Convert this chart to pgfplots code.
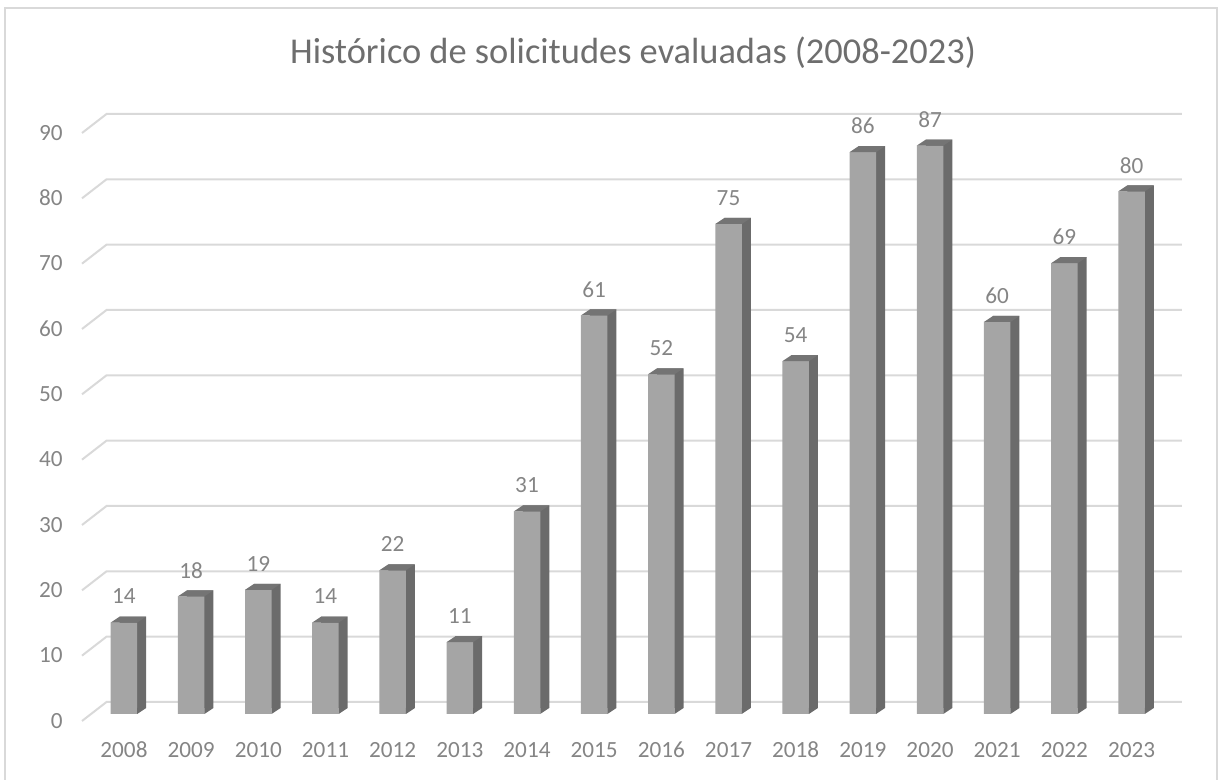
\documentclass[border=0pt]{standalone}
\usepackage{pgfplots}
\usepackage{pgfplotstable}
\pgfplotsset{compat=1.18}
\usepackage{fontspec}
\setmainfont{Carlito}
\definecolor{gridgray}{HTML}{D9D9D9}
\definecolor{barfront}{HTML}{A5A5A5}
\definecolor{barside}{HTML}{6B6B6B}
\definecolor{bartop}{HTML}{747474}
\definecolor{labelgray}{HTML}{858585}
\definecolor{titlegray}{HTML}{6E6E6E}

% top face of a 3D column (front width 13.25pt, depth 4.5pt x 3pt)
\pgfdeclareplotmark{coltop}{%
  \pgfpathmoveto{\pgfpoint{-6.625pt}{0pt}}%
  \pgfpathlineto{\pgfpoint{-2.125pt}{3pt}}%
  \pgfpathlineto{\pgfpoint{11.125pt}{3pt}}%
  \pgfpathlineto{\pgfpoint{6.625pt}{0pt}}%
  \pgfpathclose
  \pgfusepath{fill}}
% foot of the side face
\pgfdeclareplotmark{colfoot}{%
  \pgfpathmoveto{\pgfpoint{6.625pt}{0pt}}%
  \pgfpathlineto{\pgfpoint{6.625pt}{3pt}}%
  \pgfpathlineto{\pgfpoint{11.125pt}{3pt}}%
  \pgfpathclose
  \pgfusepath{fill}}

\pgfplotstableread{
x y
0 14
1 18
2 19
3 14
4 22
5 11
6 31
7 61
8 52
9 75
10 54
11 86
12 87
13 60
14 69
15 80
}\solicitudes

\begin{document}
\begin{tikzpicture}
\draw[gridgray, line width=1pt] (2.5pt,0pt) -- (2.5pt,386pt) -- (608.5pt,386pt) -- (608.5pt,0pt);
\node[font=\fontsize{18.2}{20}\selectfont, text=titlegray, anchor=base] at (316.5pt,358pt) {Histórico de solicitudes evaluadas (2008-2023)};
\begin{axis}[
  at={(45.2pt,33pt)}, anchor=south west,
  scale only axis, width=537.35pt, height=294pt,
  xmin=-0.5, xmax=15.5, ymin=0, ymax=90,
  clip=false,
  axis line style={draw=none}, tick style={draw=none},
  xtick={0,...,15},
  xticklabels={2008,2009,2010,2011,2012,2013,2014,2015,2016,2017,2018,2019,2020,2021,2022,2023},
  ytick={0,10,...,90},
  /pgf/number format/assume math mode=true,
  tick label style={font=\fontsize{11.6}{13}\selectfont, text=labelgray, inner sep=0pt},
  xticklabel style={anchor=center, yshift=-18pt},
  yticklabel style={anchor=east, xshift=-13.7pt, yshift=-3.4pt},
]
\pgfplotsinvokeforeach{0,10,20,30,40,50,60,70,80,90}{
  \draw[gridgray, line width=1pt] ([yshift=-3.5pt]axis cs:-0.625,#1) -- ([yshift=6pt]axis cs:-0.26,#1) -- ([yshift=6pt]axis cs:15.75,#1);
}
\addplot[ybar, bar width=13.25pt, bar shift=4.5pt, yshift=3pt, fill=barside, draw=none] table {\solicitudes};
\addplot[ybar, bar width=13.25pt, fill=barfront, draw=none] table {\solicitudes};
\addplot[only marks, mark=colfoot, color=barside] table[y expr=0] {\solicitudes};
\addplot[only marks, mark=coltop, color=bartop,
  nodes near coords,
  every node near coord/.append style={anchor=center, yshift=13pt, font=\fontsize{11.6}{13}\selectfont, text=labelgray}]
  table {\solicitudes};
\end{axis}
\pgfresetboundingbox
\path (0pt,0pt) rectangle (611pt,390pt);
\end{tikzpicture}
\end{document}
